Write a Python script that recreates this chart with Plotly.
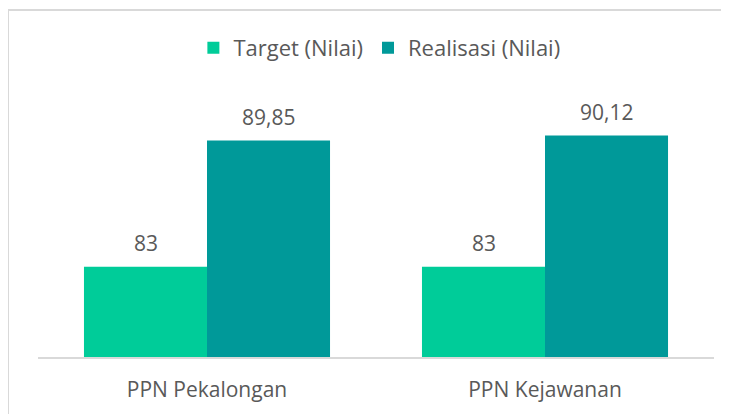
import plotly.graph_objects as go

categories = ["PPN Pekalongan", "PPN Kejawanan"]
target = [83, 83]
realisasi = [89.85, 90.12]
series_names = ["Target (Nilai)", "Realisasi (Nilai)"]
colors = ["#00CC99", "#009999"]

def fmt(v):
    s = f"{v:.2f}".rstrip("0").rstrip(".")
    return s.replace(".", ",")

FONT = "Open Sans"
TXT = "#595959"

fig = go.Figure()
for name, vals, col in zip(series_names, [target, realisasi], colors):
    fig.add_trace(go.Bar(
        x=categories, y=vals, name=name, marker=dict(color=col, line=dict(width=0)),
        hoverinfo="skip",
    ))

# data labels
ann = []
for i, vals in enumerate([target, realisasi]):
    shift = -61.5 if i == 0 else 61.5
    for c, v in zip(categories, vals):
        ann.append(dict(x=c, y=v, text=fmt(v), showarrow=False, xshift=shift,
                        yshift=24, yanchor="middle",
                        font=dict(family=FONT, size=21, color=TXT)))

fig.update_layout(
    width=729, height=414,
    margin=dict(l=30, r=23, t=93, b=65),
    paper_bgcolor="white", plot_bgcolor="white",
    barmode="group", bargap=0.272, bargroupgap=0,
    font=dict(family=FONT, size=21, color=TXT),
    legend=dict(orientation="h", x=0.505, xanchor="center", y=1.207, yanchor="middle",
                font=dict(family=FONT, size=22, color=TXT), itemwidth=30,
                traceorder="normal", itemclick=False),
    annotations=ann,
    showlegend=True,
)
fig.update_xaxes(showline=True, linecolor="#D9D9D9", linewidth=1.5, showgrid=False,
                 ticks="", ticklabelstandoff=13,
                 tickfont=dict(family=FONT, size=21, color=TXT))
fig.update_yaxes(range=[78.1, 92], visible=False, showgrid=False, zeroline=False)

fig.add_shape(type="rect", xref="paper", yref="paper",
              x0=-0.0444, x1=1.06, y0=-0.35, y1=1.3555,
              line=dict(color="#D9D9D9", width=2), fillcolor="rgba(0,0,0,0)", layer="below")

fig.write_html("out.html")
